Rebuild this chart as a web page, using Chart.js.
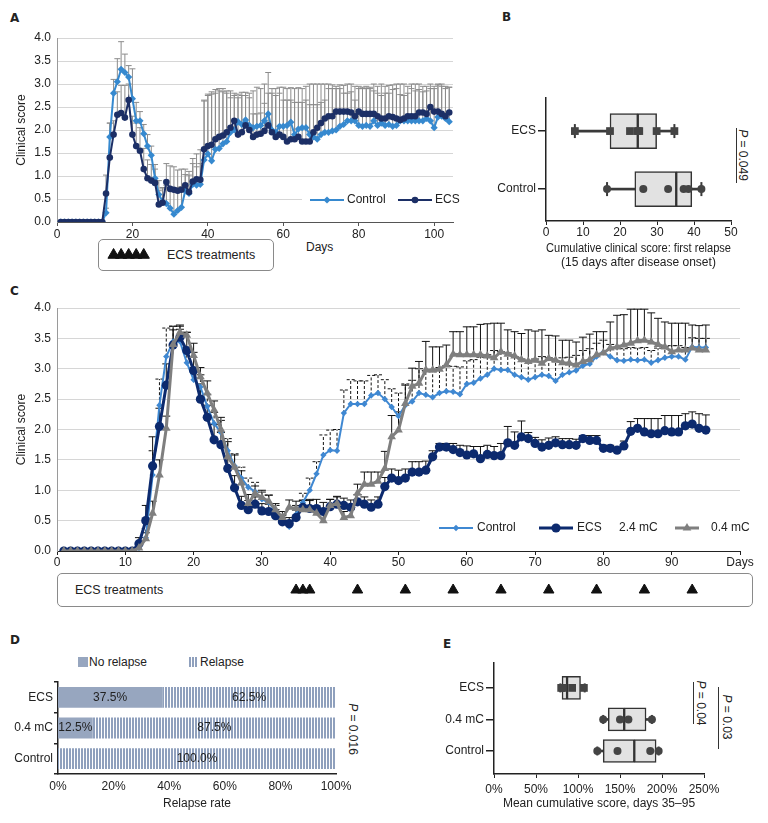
<!DOCTYPE html>
<html>
<head>
<meta charset="utf-8">
<script src="https://cdn.jsdelivr.net/npm/chart.js@4.4.1/dist/chart.umd.min.js"></script>
<style>
body{margin:0;background:#fff;font-family:"Liberation Sans",Arial,sans-serif;color:#222;}
#fig{position:relative;width:768px;height:823px;overflow:hidden;background:#fff}
canvas{position:absolute}
.lbl{position:absolute;font-family:"DejaVu Sans",sans-serif;font-weight:bold;font-size:12px;line-height:12px}
.txt{position:absolute;font-size:12px;line-height:14px;white-space:nowrap}
.box{position:absolute;border:1.5px solid #8a8a8a;border-radius:5px;box-sizing:border-box}
.pv{position:absolute;font-size:12px;line-height:14px;white-space:nowrap;transform:translate(-50%,-50%) rotate(90deg)}
.vl{position:absolute;width:0;border-left:1.5px solid #333}
</style>
</head>
<body>
<div id="fig">
  <div class="lbl" style="left:10px;top:12px">A</div>
  <div class="lbl" style="left:502px;top:11px">B</div>
  <div class="lbl" style="left:10px;top:285px">C</div>
  <div class="lbl" style="left:10px;top:634px">D</div>
  <div class="lbl" style="left:443px;top:638px">E</div>

  <div class="box" style="left:98px;top:239px;width:176px;height:32px"></div>
  <div class="txt" style="left:167px;top:248px;font-size:12.5px">ECS treatments</div>
  <div class="txt" style="left:306px;top:240px">Days</div>

  <div class="box" style="left:57px;top:573px;width:696px;height:34px"></div>
  <div class="txt" style="left:75px;top:583px;font-size:12.5px">ECS treatments</div>

  <div class="vl" style="left:736px;top:128px;height:55px"></div>
  <div class="pv" style="left:743px;top:155px"><i>P</i> = 0.049</div>

  <div class="pv" style="left:353px;top:729px"><i>P</i> = 0.016</div>

  <div class="vl" style="left:693px;top:682px;height:42px"></div>
  <div class="pv" style="left:701px;top:703px"><i>P</i> = 0.04</div>
  <div class="vl" style="left:718px;top:687px;height:62px"></div>
  <div class="pv" style="left:727px;top:717px"><i>P</i> = 0.03</div>

  <div style="position:absolute;left:78px;top:657px;width:10px;height:10px;background:#97a6bf"></div>
  <div class="txt" style="left:89px;top:655px">No relapse</div>
  <div style="position:absolute;left:189px;top:657px;width:9px;height:10px;background:repeating-linear-gradient(90deg,#8fa0bd 0 2px,#fff 2px 3px)"></div>
  <div class="txt" style="left:200px;top:655px">Relapse</div>
</div>
<script>
// ---- panel A: clinical score, days 1-104 ----
var ctlA = [0,0,0,0,0,0,0,0,0,0,0,0,
  0.2,1.85,2.8,3.05,3.32,3.25,3.15,2.68,2.2,2.2,
  1.92,1.65,1.45,0.95,0.6,0.45,0.4,0.3,0.17,0.25,
  0.32,0.68,0.62,0.82,0.8,0.82,1.35,1.48,1.33,1.58,
  1.6,1.7,1.75,1.95,2.0,2.18,2.12,2.22,2.1,2.05,
  2.08,2.1,2.2,2.35,2.0,1.95,2.08,2.08,2.1,2.17,
  1.9,2.02,2.05,2.05,1.9,1.85,1.8,1.9,1.95,1.95,
  1.98,2.0,2.08,2.12,2.2,2.2,2.2,2.1,2.08,2.1,
  2.08,2.2,2.1,2.15,2.1,2.12,2.08,2.1,2.2,2.2,
  2.2,2.2,2.2,2.2,2.2,2.25,2.2,2.05,2.28,2.3,
  2.25,2.18];
var ecsA = [0,0,0,0,0,0,0,0,0,0,0,0,
  0.62,1.4,1.9,2.33,2.37,2.27,2.65,1.9,1.65,1.55,
  1.15,0.95,0.9,0.85,0.38,0.42,0.87,0.72,0.7,0.68,
  0.7,0.8,0.65,0.88,0.93,0.92,1.58,1.65,1.68,1.8,
  1.85,1.88,1.95,2.05,2.2,1.9,1.95,2.1,2.0,1.85,
  1.9,1.92,1.98,2.1,1.95,1.85,1.9,1.85,1.75,1.8,
  1.8,1.85,1.75,1.75,1.75,1.95,2.05,2.15,2.25,2.3,
  2.3,2.4,2.4,2.4,2.4,2.38,2.3,2.4,2.35,2.35,
  2.35,2.35,2.3,2.25,2.25,2.3,2.28,2.25,2.22,2.25,
  2.3,2.3,2.3,2.38,2.38,2.35,2.5,2.4,2.4,2.35,
  2.3,2.38];
var errCtlA = [0,0,0,0,0,0,0,0,0,0,0,0,
  0.1,0.3,0.3,0.5,0.6,0.4,0.25,0.65,0.4,0.2,
  0.2,0.25,0.2,0.3,0.3,0.3,0.4,0.45,0.5,0.5,
  0.45,0.35,0.4,0.45,0.4,0.45,1.3,1.3,1.5,1.3,
  1.3,1.2,1.1,0.9,0.8,0.6,0.7,0.6,0.7,0.8,
  0.85,0.8,0.8,0.9,0.9,0.95,0.85,0.85,0.8,0.75,
  1.0,0.9,0.85,0.9,1.1,1.15,1.2,1.1,1.05,1.05,
  1.0,0.95,0.9,0.85,0.8,0.8,0.75,0.85,0.85,0.85,
  0.85,0.8,0.85,0.85,0.85,0.85,0.9,0.9,0.8,0.8,
  0.75,0.8,0.8,0.8,0.75,0.7,0.8,0.9,0.7,0.7,
  0.7,0.75];
var errEcsA = [0,0,0,0,0,0,0,0,0,0,0,0,
  0.4,0.75,0.3,0.5,0.6,0.7,0.35,0.4,0.5,0.5,
  0.45,0.4,0.35,0.3,0.3,0.3,0.4,0.5,0.5,0.45,
  0.45,0.35,0.45,0.5,0.55,0.65,1.05,1.1,1.1,1.0,
  1.0,0.95,0.85,0.65,0.55,0.8,0.8,0.65,0.7,0.5,
  0.45,0.45,0.6,0.7,0.85,0.9,0.9,0.8,0.9,0.85,
  0.8,0.75,0.85,0.9,0.8,0.6,0.5,0.45,0.4,0.6,
  0.6,0.5,0.5,0.4,0.4,0.45,0.35,0.5,0.55,0.55,
  0.55,0.5,0.5,0.5,0.55,0.5,0.6,0.65,0.55,0.5,
  0.5,0.6,0.55,0.5,0.45,0.5,0.4,0.5,0.6,0.6,
  0.6,0.55];
var treatA = [15,17,19,21,23];

// ---- panel B: cumulative score, first relapse ----
var groupsB = ['ECS','Control'];
var loB = [7.8,16.5], q1B = [17.3,24.0], medB = [24.8,35.2], q3B = [29.9,39.4], hiB = [34.7,42.0];
var ptsB = [[7.8,17.3,22.7,24.8,25.2,29.9,34.7],[16.5,26.3,33.0,37.2,38.5,42.0]];

// ---- panel C: clinical score, days 1-95 ----
var ctlC = [0,0,0,0,0,0,0,0,0,0,0,
  0.05,0.22,1.25,2.4,3.2,3.45,3.45,3.1,2.82,
  2.7,2.38,2.1,1.95,1.65,1.4,1.2,1.05,0.98,0.85,
  0.8,0.65,0.5,0.4,0.6,0.8,1.0,1.27,1.58,1.66,
  1.65,2.27,2.42,2.42,2.42,2.56,2.6,2.5,2.37,2.22,
  2.4,2.46,2.6,2.57,2.53,2.6,2.63,2.62,2.58,2.75,
  2.77,2.84,2.9,3.0,2.98,2.98,2.9,2.86,2.82,2.86,
  2.9,2.88,2.8,2.9,2.94,2.97,3.05,3.08,3.2,3.27,
  3.2,3.14,3.13,3.15,3.14,3.15,3.1,3.14,3.18,3.2,
  3.2,3.15,3.36,3.35,3.35];
var ecsC = [0,0,0,0,0,0,0,0,0,0,0,
  0.12,0.5,1.4,2.05,2.73,3.39,3.52,3.3,2.97,
  2.5,2.2,1.83,1.75,1.36,1.04,0.75,0.68,0.77,0.66,
  0.65,0.58,0.48,0.45,0.55,0.72,0.7,0.7,0.65,0.73,
  0.77,0.75,0.72,0.81,0.77,0.72,0.77,1.06,1.2,1.16,
  1.2,1.3,1.3,1.33,1.55,1.71,1.71,1.67,1.62,1.58,
  1.6,1.52,1.59,1.57,1.57,1.78,1.74,1.88,1.85,1.77,
  1.71,1.74,1.78,1.75,1.75,1.74,1.85,1.82,1.82,1.69,
  1.69,1.66,1.73,1.97,2.02,1.96,1.93,1.93,1.98,1.96,
  1.96,2.06,2.09,2.02,1.99];
var lowC = [0,0,0,0,0,0,0,0,0,0,0,
  0.05,0.2,0.62,1.25,2.02,3.4,3.6,3.55,3.22,
  2.87,2.6,2.32,2.0,1.55,1.38,1.12,0.78,0.95,0.88,
  0.82,0.68,0.55,0.72,0.7,0.68,0.68,0.62,0.5,0.75,
  0.78,0.55,0.58,0.95,1.1,1.1,1.15,1.36,1.88,1.99,
  2.43,2.71,2.76,2.98,2.98,2.99,3.06,3.24,3.23,3.23,
  3.23,3.23,3.21,3.18,3.28,3.24,3.21,3.15,3.12,3.14,
  3.09,3.17,3.14,3.1,3.09,3.06,3.12,3.15,3.23,3.26,
  3.34,3.36,3.39,3.42,3.46,3.47,3.44,3.4,3.36,3.28,
  3.31,3.31,3.34,3.31,3.31];
var errCtlC = [0,0,0,0,0,0,0,0,0,0,0,
  0.05,0.15,0.4,0.43,0.47,0.25,0.2,0.25,0.2,
  0.2,0.2,0.18,0.2,0.2,0.2,0.18,0.15,0.15,0.12,
  0.12,0.1,0.1,0.1,0.15,0.15,0.2,0.2,0.33,0.33,
  0.35,0.38,0.4,0.38,0.38,0.33,0.3,0.32,0.3,0.38,
  0.35,0.35,0.4,0.4,0.42,0.42,0.42,0.42,0.45,0.38,
  0.38,0.35,0.33,0.3,0.3,0.28,0.3,0.3,0.3,0.3,
  0.3,0.3,0.32,0.28,0.25,0.25,0.25,0.25,0.22,0.2,
  0.2,0.2,0.2,0.2,0.2,0.2,0.2,0.2,0.18,0.18,
  0.18,0.2,0.15,0.15,0.15];
var errEcsC = [0,0,0,0,0,0,0,0,0,0,0,
  0.1,0.25,0.48,0.3,0.35,0.25,0.2,0.3,0.3,
  0.25,0.2,0.25,0.2,0.2,0.2,0.15,0.15,0.12,0.12,
  0.12,0.1,0.1,0.1,0.12,0.12,0.15,0.15,0.15,0.12,
  0.12,0.12,0.12,0.12,0.12,0.12,0.12,0.15,0.15,0.17,
  0.15,0.17,0.17,0.15,0.1,0.06,0.06,0.1,0.12,0.15,
  0.12,0.2,0.15,0.15,0.2,0.27,0.22,0.26,0.1,0.1,
  0.12,0.12,0.1,0.1,0.1,0.1,0.05,0.08,0.08,0.05,
  0.05,0.05,0.08,0.16,0.16,0.22,0.25,0.25,0.25,0.27,
  0.27,0.2,0.2,0.24,0.25];
var errLowC = [0,0,0,0,0,0,0,0,0,0,0,
  0.05,0.1,0.2,0.25,0.2,0.3,0.1,0.05,0.2,
  0.15,0.2,0.15,0.2,0.25,0.2,0.2,0.15,0.12,0.12,
  0.1,0.1,0.1,0.12,0.12,0.15,0.15,0.12,0.12,0.1,
  0.12,0.1,0.1,0.15,0.2,0.2,0.15,0.28,0.35,0.3,
  0.3,0.3,0.36,0.47,0.38,0.37,0.33,0.37,0.38,0.46,
  0.46,0.5,0.53,0.57,0.47,0.4,0.4,0.43,0.52,0.48,
  0.55,0.38,0.4,0.37,0.38,0.38,0.4,0.42,0.38,0.35,
  0.43,0.52,0.5,0.56,0.52,0.51,0.48,0.43,0.41,0.47,
  0.44,0.44,0.38,0.4,0.41];
var treatC = [35,36,37,44,51,58,65,72,79,86,93];

// ---- panel D: relapse rate ----
var groupsD = ['ECS','0.4 mC','Control'];
var noRelapse = [37.5,12.5,0];
var relapse = [62.5,87.5,100];

// ---- panel E: mean cumulative score days 35-95 ----
var groupsE = ['ECS','0.4 mC','Control'];
var loE = [79,130,123], q1E = [81,136,130], medE = [87,155,167], q3E = [103,181,193], hiE = [108,188,196];
var ptsE = [[82,93,80,107],[130,150,160,188],[123,147,186,196]];

var FONT = '"Liberation Sans", Arial, sans-serif';
Chart.defaults.font.family = FONT;
Chart.defaults.font.size = 12;
Chart.defaults.color = '#222';
Chart.defaults.animation = false;
Chart.defaults.plugins.legend.display = false;
Chart.defaults.plugins.tooltip.enabled = false;

var fig = document.getElementById('fig');
function mk(left, top, w, h){
  var c = document.createElement('canvas');
  c.width = w; c.height = h;
  c.style.left = left + 'px'; c.style.top = top + 'px';
  fig.appendChild(c);
  return c;
}
function xy(days, vals){ return vals.map(function(v, i){ return {x: days[i], y: v}; }); }
function seq(n){ var a = []; for (var i = 1; i <= n; i++) a.push(i); return a; }

// upper error bars, drawn under the lines
var errorBars = {
  id: 'errorBars',
  beforeDatasetsDraw: function(chart){
    var ctx = chart.ctx, ys = chart.scales.y;
    chart.data.datasets.forEach(function(ds, di){
      if (!ds.errors) return;
      var meta = chart.getDatasetMeta(di);
      ctx.save();
      ctx.strokeStyle = ds.errorColor; ctx.lineWidth = 1;
      ctx.setLineDash(ds.errorDash || []);
      meta.data.forEach(function(pt, i){
        var e = ds.errors[i];
        if (!e) return;
        var top = ys.getPixelForValue(ds.data[i].y + e);
        ctx.beginPath();
        ctx.moveTo(pt.x, pt.y); ctx.lineTo(pt.x, top);
        ctx.moveTo(pt.x - ds.capW, top); ctx.lineTo(pt.x + ds.capW, top);
        ctx.stroke();
      });
      ctx.restore();
    });
  }
};

// legend sitting inside the plot
var insideLegend = {
  id: 'insideLegend',
  beforeDatasetsDraw: function(chart, args, o){
    if (!o.bg) return;
    chart.ctx.save();
    chart.ctx.fillStyle = '#fff';
    chart.ctx.fillRect(o.bg[0], o.bg[1], o.bg[2], o.bg[3]);
    chart.ctx.restore();
  },
  afterDatasetsDraw: function(chart, args, o){
    if (!o.items) return;
    var ctx = chart.ctx;
    ctx.save();
    ctx.font = '12px ' + FONT;
    ctx.textBaseline = 'middle';
    o.items.forEach(function(it){
      if (it.ds != null) {
        var ds = chart.data.datasets[it.ds];
        ctx.strokeStyle = ds.borderColor; ctx.lineWidth = ds.borderWidth;
        ctx.beginPath(); ctx.moveTo(it.x1, o.y); ctx.lineTo(it.x2, o.y); ctx.stroke();
        ctx.lineWidth = 1;
        ctx.fillStyle = ds.pointBackgroundColor; ctx.strokeStyle = ds.pointBackgroundColor;
        Chart.helpers.drawPoint(ctx, {pointStyle: ds.pointStyle, radius: ds.pointRadius, borderWidth: 0, rotation: 0}, (it.x1 + it.x2) / 2, o.y);
      }
      ctx.fillStyle = '#222';
      ctx.fillText(it.text, it.tx, o.y);
    });
    ctx.restore();
  }
};

// ---------- A ----------
var daysA = seq(ctlA.length);
new Chart(mk(0, 20, 470, 230), {
  type: 'line',
  data: { datasets: [
    { label: 'ECS', data: xy(daysA, ecsA), borderColor: '#1c2f66', borderWidth: 2, pointStyle: 'circle', pointRadius: 3.3,
      pointBackgroundColor: '#1c2f66', pointBorderWidth: 0, errors: errEcsA, errorColor: '#8c8c8c', capW: 3 },
    { label: 'Control', data: xy(daysA, ctlA), borderColor: '#3689cf', borderWidth: 2, pointStyle: 'rectRot', pointRadius: 3.6,
      pointBackgroundColor: '#3689cf', pointBorderWidth: 0, errors: errCtlA, errorColor: '#8c8c8c', capW: 3 }
  ]},
  options: {
    responsive: false, devicePixelRatio: 1,
    layout: { padding: { top: 18, right: 17 } },
    scales: {
      x: { type: 'linear', min: 0, max: 105,
        ticks: { stepSize: 20, includeBounds: false, padding: 1, font: { size: 12 } },
        grid: { drawOnChartArea: false, tickLength: 4, color: '#555' },
        border: { color: '#555' },
        afterFit: function(s){ s.height = 28; } },
      y: { min: 0, max: 4,
        ticks: { stepSize: 0.5, padding: 6, callback: function(v){ return v.toFixed(1); } },
        grid: { color: '#d6d6d6', drawTicks: false },
        border: { color: '#9a9a9a' },
        title: { display: true, text: 'Clinical score', padding: { top: 14, bottom: 0 } },
        afterFit: function(s){ s.width = 57; } }
    },
    plugins: {
      insideLegend: { bg: [302, 172, 160, 16], y: 180,
        items: [ { ds: 1, x1: 310, x2: 344, tx: 347, text: 'Control' },
                 { ds: 0, x1: 398, x2: 432, tx: 435, text: 'ECS' } ] }
    }
  },
  plugins: [errorBars, insideLegend]
});

// treatment arrows under A
new Chart(mk(0, 239, 470, 32), {
  type: 'scatter',
  data: { datasets: [{ data: treatA.map(function(d){ return {x: d, y: 0}; }), pointStyle: 'triangle', pointRadius: 6.5,
    backgroundColor: '#111', borderColor: '#111', clip: false }] },
  options: { responsive: false, devicePixelRatio: 1, layout: { padding: { left: 57, right: 17 } },
    scales: { x: { type: 'linear', min: 0, max: 105, display: false }, y: { min: -1, max: 1, display: false } } }
});

// ---------- box plot helper (B, E) ----------
function boxChart(canvas, g, lo, q1, med, q3, hi, pts, cfg){
  function rows(a, b){ return a.map(function(v, i){ return {x: [v, b[i]], y: i}; }); }
  var pdata = [];
  pts.forEach(function(list, gi){ list.forEach(function(v){ pdata.push({x: v, y: gi}); }); });
  var caps = [];
  lo.forEach(function(v, i){ caps.push({x: v, y: i}); caps.push({x: hi[i], y: i}); });
  var boxStyle = { type: 'bar', backgroundColor: '#e2e2e2', borderColor: '#333', borderWidth: 1.5, borderSkipped: false,
    barThickness: cfg.boxH, grouped: false, order: 3 };
  var whisk = { type: 'bar', backgroundColor: '#3a3a3a', borderWidth: 0, barThickness: 2, grouped: false, order: 4 };
  return new Chart(canvas, {
    type: 'bar',
    data: { datasets: [
      Object.assign({ data: rows(lo, q1) }, whisk),
      Object.assign({ data: rows(q3, hi) }, whisk),
      Object.assign({ data: rows(q1, med) }, boxStyle),
      Object.assign({ data: rows(med, q3) }, boxStyle),
      { type: 'scatter', data: caps, pointStyle: 'line', rotation: 90, pointRadius: cfg.capR, borderColor: '#3a3a3a', borderWidth: 2, order: 1 },
      { type: 'scatter', data: pdata, pointRadius: function(c){ return c.raw.y === 0 ? cfg.sqR : 4; },
        pointStyle: function(c){ return c.raw.y === 0 ? 'rect' : 'circle'; },
        backgroundColor: '#444', borderColor: '#444', borderWidth: 0, order: 0 }
    ]},
    options: {
      responsive: false, devicePixelRatio: 1, indexAxis: 'y',
      layout: { padding: cfg.pad },
      scales: {
        x: { type: 'linear', min: cfg.xmin, max: cfg.xmax, offset: false,
          ticks: { stepSize: cfg.step, includeBounds: false, padding: cfg.xpad, callback: cfg.fmt },
          grid: { drawOnChartArea: false, tickLength: 4, color: '#222', offset: false },
          border: { color: '#222', width: 1.5 },
          title: { display: true, text: cfg.title, padding: { top: 0, bottom: cfg.tpad }, font: { size: 12 } },
          afterFit: function(s){ s.height = cfg.xh; } },
        y: { type: 'linear', reverse: true, min: cfg.ymin, max: cfg.ymax, offset: false,
          afterBuildTicks: function(s){ s.ticks = g.map(function(_, i){ return {value: i}; }); },
          ticks: { padding: 2, callback: function(v){ return g[v]; } },
          grid: { drawOnChartArea: false, tickLength: 8, color: '#222', lineWidth: 1.5, offset: false },
          border: { color: '#222', width: 1.5 },
          afterFit: function(s){ s.width = cfg.yw; } }
      }
    }
  });
}

// ---------- B ----------
boxChart(mk(400, 20, 368, 250), groupsB, loB, q1B, medB, q3B, hiB, ptsB, {
  boxH: 35, capR: 7, sqR: 5.5, pad: { top: 78, right: 37 }, xmin: 0, xmax: 50, step: 10, xpad: 0,
  fmt: function(v){ return v; }, title: ['Cumulative clinical score: first relapse', '(15 days after disease onset)'],
  tpad: 0, xh: 49, ymin: -0.57, ymax: 1.55, yw: 146 });

// ---------- C ----------
var daysC = seq(ctlC.length);
new Chart(mk(0, 290, 768, 285), {
  type: 'line',
  data: { datasets: [
    { label: 'Control', data: xy(daysC, ctlC), borderColor: '#3f88d2', borderWidth: 2, pointStyle: 'rectRot', pointRadius: 3.2,
      pointBackgroundColor: '#3f88d2', pointBorderWidth: 0, errors: errCtlC, errorColor: '#111', errorDash: [3, 2], capW: 4, order: 2 },
    { label: 'ECS 2.4 mC', data: xy(daysC, ecsC), borderColor: '#0c2a6e', borderWidth: 3, pointStyle: 'circle', pointRadius: 4.6,
      pointBackgroundColor: '#0c2a6e', pointBorderWidth: 0, errors: errEcsC, errorColor: '#111', capW: 4, order: 1 },
    { label: '0.4 mC', data: xy(daysC, lowC), borderColor: '#7f7f7f', borderWidth: 3, pointStyle: 'triangle', pointRadius: 5,
      pointBackgroundColor: '#7f7f7f', pointBorderWidth: 0, errors: errLowC, errorColor: '#111', capW: 4, order: 0 }
  ]},
  options: {
    responsive: false, devicePixelRatio: 1,
    layout: { padding: { top: 18, right: 28 } },
    scales: {
      x: { type: 'linear', min: 0, max: 100,
        ticks: { stepSize: 10, includeBounds: false, padding: 0, callback: function(v){ return v === 100 ? 'Days' : v; } },
        grid: { drawOnChartArea: false, tickLength: 4, color: '#222' },
        border: { color: '#222' },
        afterFit: function(s){ s.height = 24; } },
      y: { min: 0, max: 4,
        ticks: { stepSize: 0.5, padding: 6, callback: function(v){ return v.toFixed(1); } },
        grid: { color: '#d6d6d6', drawTicks: false },
        border: { color: '#9a9a9a' },
        title: { display: true, text: 'Clinical score', padding: { top: 14, bottom: 0 } },
        afterFit: function(s){ s.width = 57; } }
    },
    plugins: {
      insideLegend: { bg: [420, 229, 322, 17], y: 238,
        items: [ { ds: 0, x1: 439, x2: 473, tx: 477, text: 'Control' },
                 { ds: 1, x1: 539, x2: 573, tx: 577, text: 'ECS' },
                 { tx: 619, text: '2.4 mC' },
                 { ds: 2, x1: 675, x2: 699, tx: 711, text: '0.4 mC' } ] }
    }
  },
  plugins: [errorBars, insideLegend]
});

// treatment arrows under C
new Chart(mk(0, 574, 768, 32), {
  type: 'scatter',
  data: { datasets: [{ data: treatC.map(function(d){ return {x: d, y: 0}; }), pointStyle: 'triangle', pointRadius: 6,
    backgroundColor: '#111', borderColor: '#111', clip: false }] },
  options: { responsive: false, devicePixelRatio: 1, layout: { padding: { left: 57, right: 28 } },
    scales: { x: { type: 'linear', min: 0, max: 100, display: false }, y: { min: -1, max: 1, display: false } } }
});

// ---------- D ----------
var cD = mk(0, 672, 390, 151);
var tile = document.createElement('canvas');
tile.width = 3; tile.height = 4;
var tg = tile.getContext('2d');
tg.fillStyle = '#fff'; tg.fillRect(0, 0, 3, 4);
tg.fillStyle = '#8fa0bd'; tg.fillRect(0, 0, 2, 4);
var stripes = cD.getContext('2d').createPattern(tile, 'repeat');

var barLabels = {
  id: 'barLabels',
  afterDatasetsDraw: function(chart){
    var ctx = chart.ctx;
    ctx.save();
    ctx.font = '12px ' + FONT; ctx.fillStyle = '#222';
    ctx.textAlign = 'center'; ctx.textBaseline = 'middle';
    chart.data.datasets.forEach(function(ds, di){
      chart.getDatasetMeta(di).data.forEach(function(el, i){
        if (!ds.data[i]) return;
        ctx.fillText(ds.data[i].toFixed(1) + '%', (el.x + el.base) / 2, el.y);
      });
    });
    ctx.restore();
  }
};
new Chart(cD, {
  type: 'bar',
  data: { labels: groupsD, datasets: [
    { label: 'No relapse', data: noRelapse, backgroundColor: '#97a6bf', categoryPercentage: 1, barPercentage: 0.68 },
    { label: 'Relapse', data: relapse, backgroundColor: stripes, categoryPercentage: 1, barPercentage: 0.68 }
  ]},
  options: {
    responsive: false, devicePixelRatio: 1, indexAxis: 'y',
    layout: { padding: { top: 10, right: 54 } },
    scales: {
      x: { stacked: true, min: 0, max: 100,
        ticks: { stepSize: 20, padding: 5, callback: function(v){ return v + '%'; } },
        grid: { display: false, drawTicks: false },
        border: { color: '#222', width: 1.5 },
        title: { display: true, text: 'Relapse rate', padding: { top: 0, bottom: 12 } },
        afterFit: function(s){ s.height = 49; } },
      y: { stacked: true,
        ticks: { padding: 1 },
        grid: { drawOnChartArea: false, tickLength: 4, color: '#222', lineWidth: 1.5 },
        border: { color: '#222', width: 1.5 },
        afterFit: function(s){ s.width = 58; } }
    }
  },
  plugins: [barLabels]
});

// ---------- E ----------
boxChart(mk(400, 650, 368, 173), groupsE, loE, q1E, medE, q3E, hiE, ptsE, {
  boxH: 23, capR: 4.5, sqR: 5.5, pad: { top: 13, right: 64 }, xmin: 0, xmax: 250, step: 50, xpad: 4,
  fmt: function(v){ return v + '%'; }, title: 'Mean cumulative score, days 35\u201395',
  tpad: 12, xh: 49, ymin: -0.79, ymax: 2.73, yw: 94 });
</script>
</body>
</html>
